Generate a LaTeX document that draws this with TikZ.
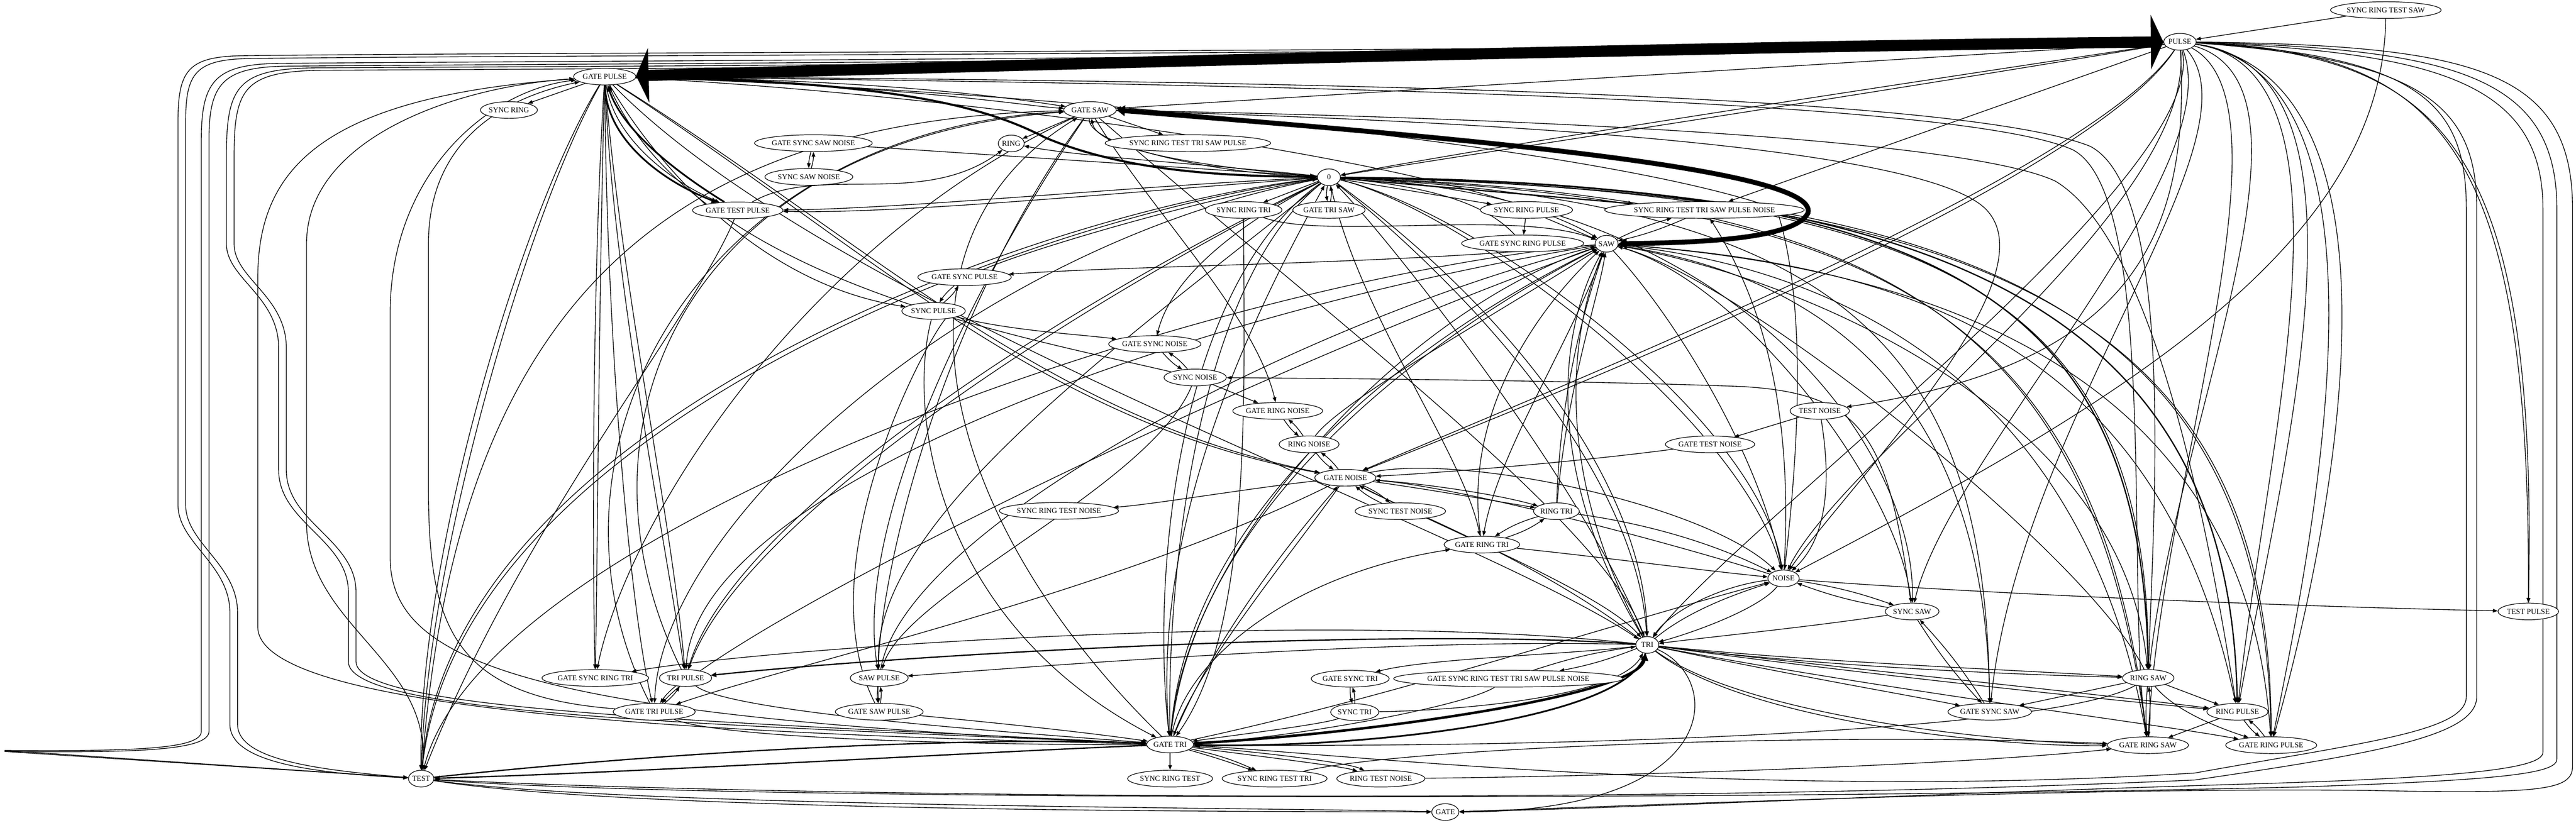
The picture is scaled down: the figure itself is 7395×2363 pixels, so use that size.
\documentclass[tikz,border=0pt]{standalone}
\usepackage{fontspec}
\setmainfont{Liberation Serif}
\usetikzlibrary{shapes.geometric,arrows.meta}
\pgfdeclarelayer{edges}
\pgfsetlayers{edges,main}

\begin{document}
\begin{tikzpicture}
  [x=0.25pt,y=-0.25pt,
   st/.style={ellipse,draw,fill=white,line width=0.45pt,minimum width=16.5pt,minimum height=12pt,
              inner xsep=0pt,inner ysep=1pt,font=\fontsize{5.4}{6}\selectfont},
   e/.style={draw,line width=0.5pt,-{Triangle[length=3.5pt,width=2.6pt]}},
   ew/.style={draw,line width=0.9pt,-{Triangle[length=4pt,width=3.4pt]}},
   mdE/.style={draw,line width=1.2pt,-{Triangle[length=4.5pt,width=4pt]}},
   thE/.style={draw,line width=1.5pt,-{Triangle[length=5pt,width=4.5pt]}},
   bandT/.style={draw,line width=1.8pt,-{Triangle[length=5pt,width=5.5pt]}},
   bandE/.style={draw,line width=3.5pt,{Triangle[length=6pt,width=7.5pt]}-{Triangle[length=6pt,width=7.5pt]}},
   hugeE/.style={draw,line width=8pt,{Triangle[length=9pt,width=39pt]}-{Triangle[length=9pt,width=39pt]}}]

  \useasboundingbox (0,0) rectangle (7395,2363);

  % states
  \node[st] (pulse)     at (6258,120)  {PULSE};
  \node[st] (srts)      at (6849,29)   {SYNC RING TEST SAW};
  \node[st] (gpulse)    at (1736,220)  {GATE PULSE};
  \node[st] (sring)     at (1461,316)  {SYNC RING};
  \node[st] (gsaw)      at (3129,316)  {GATE SAW};
  \node[st] (srttsp)    at (3410,411)  {SYNC RING TEST TRI SAW PULSE};
  \node[st] (gssn)      at (2335,411)  {GATE SYNC SAW NOISE};
  \node[st] (ssn)       at (2322,508)  {SYNC SAW NOISE};
  \node[st] (ring)      at (2903,412)  {RING};
  \node[st] (zero)      at (3815,509)  {0};
  \node[st] (gtp)       at (2118,604)  {GATE TEST PULSE};
  \node[st] (srtri)     at (3570,603)  {SYNC RING TRI};
  \node[st] (gtsaw)     at (3815,603)  {GATE TRI SAW};
  \node[st] (srp)       at (4382,603)  {SYNC RING PULSE};
  \node[st] (srttspn)   at (4893,603)  {SYNC RING TEST TRI SAW PULSE NOISE};
  \node[st] (gsrp)      at (4371,699)  {GATE SYNC RING PULSE};
  \node[st] (saw)       at (4612,700)  {SAW};
  \node[st] (gsp)       at (2769,796)  {GATE SYNC PULSE};
  \node[st] (sp)        at (2680,893)  {SYNC PULSE};
  \node[st] (gsn)       at (3315,988)  {GATE SYNC NOISE};
  \node[st] (sn)        at (3431,1084) {SYNC NOISE};
  \node[st] (grn)       at (3668,1180) {GATE RING NOISE};
  \node[st] (rn)        at (3758,1276) {RING NOISE};
  \node[st] (gn)        at (3862,1372) {GATE NOISE};
  \node[st] (tn)        at (5224,1180) {TEST NOISE};
  \node[st] (gtn)       at (4909,1276) {GATE TEST NOISE};
  \node[st] (srtn)      at (3040,1467) {SYNC RING TEST NOISE};
  \node[st] (stn)       at (4020,1468) {SYNC TEST NOISE};
  \node[st] (rtri)      at (4468,1468) {RING TRI};
  \node[st] (grtri)     at (4254,1564) {GATE RING TRI};
  \node[st] (noise)     at (5120,1661) {NOISE};
  \node[st] (ssaw)      at (5489,1756) {SYNC SAW};
  \node[st] (tpulse)    at (7258,1756) {TEST PULSE};
  \node[st] (tri)       at (4729,1852) {TRI};
  \node[st] (gsrtri)    at (1709,1947) {GATE SYNC RING TRI};
  \node[st] (tripulse)  at (1968,1947) {TRI PULSE};
  \node[st] (sawpulse)  at (2524,1947) {SAW PULSE};
  \node[st] (gstri)     at (3876,1949) {GATE SYNC TRI};
  \node[st] (gsrttspn)  at (4330,1949) {GATE SYNC RING TEST TRI SAW PULSE NOISE};
  \node[st] (rsaw)      at (6167,1947) {RING SAW};
  \node[st] (gtpulse)   at (1878,2044) {GATE TRI PULSE};
  \node[st] (gsawpulse) at (2524,2044) {GATE SAW PULSE};
  \node[st] (stri)      at (3889,2045) {SYNC TRI};
  \node[st] (gssaw)     at (5712,2044) {GATE SYNC SAW};
  \node[st] (rpulse)    at (6423,2044) {RING PULSE};
  \node[st] (gtri)      at (3359,2138) {GATE TRI};
  \node[st] (grsaw)     at (6166,2140) {GATE RING SAW};
  \node[st] (grpulse)   at (6520,2140) {GATE RING PULSE};
  \node[st] (test)      at (1209,2236) {TEST};
  \node[st] (srtest)    at (3359,2236) {SYNC RING TEST};
  \node[st] (srttri)    at (3659,2236) {SYNC RING TEST TRI};
  \node[st] (rtn)       at (3964,2236) {RING TEST NOISE};
  \node[st] (gate)      at (4149,2332) {GATE};

  \begin{pgfonlayer}{edges}
  % heavy transitions
  \draw[hugeE] (gpulse) .. controls (3200,180) and (4800,135) .. (pulse);
  \draw[bandE] (gsaw.east) .. controls (4100,390) and (5230,480) .. (5190,612) .. controls (5150,690) and (4850,697) .. (saw.east);
  \draw[thE] (gpulse.east) .. controls (2500,235) and (2800,290) .. (3000,395) .. controls (3250,500) and (3550,505) .. (zero);
  \draw[mdE] (gpulse) .. controls (1740,400) and (1900,520) .. (gtp);
  \draw[mdE] (gtp) .. controls (1950,500) and (1790,380) .. (gpulse);
  \draw[e] (gpulse) .. controls (1765,400) and (1925,520) .. (gtp);
  \draw[bandT] (gtri) .. controls (3900,2110) and (4700,2000) .. (tri);
  \draw[mdE] (tri) .. controls (4680,2060) and (3950,2150) .. (gtri);

  % top
  \draw[e] (srts) -- (pulse);
  \draw[e] (srts) .. controls (6840,700) and (6100,1150) .. (noise);
  \draw[e] (gpulse) -- (sring);
  \draw[e] (pulse) -- (gsaw);
  \draw[e] (pulse) .. controls (5400,250) and (4400,400) .. (zero);
  \draw[e] (pulse) .. controls (5400,265) and (4400,415) .. (zero);
  \draw[e] (gsaw) -- (ring);
  \draw[e] (gsaw) -- (srttsp);
  \draw[e] (gssn) to[bend right=8] (ssn);
  \draw[e] (ssn) to[bend right=8] (gssn);
  \draw[e] (gssn) -- (zero);
  \draw[e] (gtp) .. controls (2350,470) and (2650,600) .. (ring);
  \draw[e] (zero) .. controls (3450,470) and (3100,450) .. (ring);
  \draw[e] (zero) -- (srtri);
  \draw[e] (zero) to[bend right=10] (gtsaw);
  \draw[e] (gtsaw) to[bend right=10] (zero);
  \draw[e] (zero) -- (srp);
  \draw[ew] (zero) -- (srttspn);
  \draw[e] (srp) -- (gsrp);
  \draw[e] (srp) -- (saw);
  \draw[e] (srtri) .. controls (3800,690) and (4350,600) .. (saw);
  \draw[e] (srtri) .. controls (3570,1100) and (3600,1800) .. (gtri);
  \draw[e] (gsrp) .. controls (4280,600) and (4150,540) .. (zero);
  \draw[e] (saw) to[bend left=5] (srttspn);
  \draw[e] (srttspn) to[bend left=5] (saw);
  \draw[e] (pulse) -- (srttspn);
  \draw[e] (noise) .. controls (5150,1150) and (5050,850) .. (srttspn);
  \draw[e] (saw) .. controls (4000,760) and (3300,760) .. (gsp);
  \draw[e] (zero) .. controls (3300,530) and (2600,600) .. (gtp);
  \draw[e] (zero) .. controls (3300,545) and (2600,615) .. (gtp);
  \draw[e] (gsaw) .. controls (3120,420) and (3500,500) .. (zero);
  \draw[e] (zero) .. controls (3450,480) and (3150,430) .. (gsaw);
  \draw[e] (gsp) .. controls (3000,700) and (3500,560) .. (zero);

  % from GATE PULSE and GATE SAW to the right
  \draw[e] (gpulse) .. controls (2600,230) and (2950,290) .. (gsaw);
  \draw[e] (gpulse) .. controls (2600,245) and (2950,305) .. (gsaw);
  \draw[e] (gpulse) .. controls (3500,230) and (5600,260) .. (6000,420) .. controls (6250,550) and (6180,1500) .. (rsaw);
  \draw[e] (gpulse) .. controls (3500,240) and (5600,275) .. (5950,430) .. controls (6200,560) and (6100,1700) .. (grsaw);
  \draw[e] (gpulse) .. controls (3000,260) and (4600,420) .. (5100,600) .. controls (5200,900) and (5150,1400) .. (noise);
  \draw[e] (gpulse) .. controls (2600,260) and (4200,450) .. (saw);
  \draw[e] (gsaw) .. controls (4000,330) and (5600,380) .. (5900,520) .. controls (6200,700) and (6350,1600) .. (rpulse);
  \draw[e] (gsaw) .. controls (4000,340) and (5500,400) .. (5700,600) .. controls (5900,800) and (5300,1400) .. (noise);
  \draw[e] (gsaw) .. controls (3300,600) and (3600,900) .. (grn);

  % from PULSE down the right side
  \draw[e] (pulse) .. controls (7000,150) and (7265,400) .. (tpulse);
  \draw[e] (pulse) .. controls (7020,160) and (7285,420) .. (tpulse);
  \draw[e] (pulse) .. controls (6800,200) and (6500,1300) .. (rpulse);
  \draw[e] (pulse) .. controls (6850,200) and (6560,1300) .. (rpulse);
  \draw[e] (pulse) .. controls (6900,220) and (6650,1500) .. (grpulse);
  \draw[e] (pulse) .. controls (6950,230) and (6700,1500) .. (grpulse);
  \draw[e] (pulse) .. controls (6700,250) and (6250,1200) .. (rsaw);
  \draw[e] (pulse) .. controls (6600,300) and (6200,1400) .. (grsaw);
  \draw[e] (pulse) .. controls (6500,400) and (5800,1200) .. (gssaw);
  \draw[e] (pulse) .. controls (6400,500) and (5600,1300) .. (ssaw);
  \draw[e] (pulse) .. controls (6300,600) and (5300,1300) .. (noise);
  \draw[e] (pulse) .. controls (6350,500) and (5000,1500) .. (tri);
  \draw[e] (pulse) .. controls (6000,500) and (4500,1100) .. (gn);
  \draw[e] (pulse) .. controls (6000,520) and (4500,1120) .. (gn);
  \draw[e] (pulse) .. controls (6290,700) and (6100,1050) .. (tn);
  \draw[e] (pulse) .. controls (7100,130) and (7385,200) .. (7385,600) -- (7385,2200) .. controls (7385,2270) and (7300,2280) .. (6800,2270) .. controls (6000,2260) and (4800,2310) .. (gate);
  \draw[e] (pulse) .. controls (7050,140) and (7340,220) .. (7340,600) -- (7340,2180) .. controls (7340,2220) and (7200,2240) .. (6600,2260) .. controls (5000,2300) and (2000,2300) .. (test);
  \draw[e] (pulse) .. controls (7000,150) and (7300,240) .. (7300,600) -- (7300,2160) .. controls (7300,2200) and (7150,2230) .. (6500,2250) .. controls (5500,2280) and (4700,2320) .. (gate);
  \draw[e] (pulse) .. controls (6950,160) and (7080,300) .. (7080,600) -- (7080,2000) .. controls (7080,2100) and (6800,2130) .. (6300,2220) .. controls (5000,2300) and (3800,2160) .. (gtri);
  \draw[e] (pulse) .. controls (6950,170) and (7110,300) .. (7110,600) -- (7110,2000) .. controls (7110,2110) and (6850,2160) .. (6300,2240) .. controls (4500,2320) and (2000,2280) .. (test);

  % from PULSE and GATE PULSE round the left side
  \draw[e] (pulse) .. controls (4000,150) and (1500,150) .. (700,160) .. controls (540,162) and (511,200) .. (511,350) -- (511,1450) .. controls (511,1560) and (660,1620) .. (660,1760) -- (660,2080) .. controls (660,2190) and (900,2220) .. (test);
  \draw[e] (pulse) .. controls (4000,158) and (1500,158) .. (720,168) .. controls (560,170) and (533,210) .. (533,350) -- (533,1450) .. controls (533,1560) and (682,1620) .. (682,1760) -- (682,2080) .. controls (682,2180) and (900,2210) .. (test);
  \draw[e] (pulse) .. controls (4000,170) and (1600,175) .. (800,182) .. controls (620,185) and (578,230) .. (578,400) -- (578,2100) .. controls (578,2150) and (400,2158) .. (13,2155) -- (test);
  \draw[e] (pulse) .. controls (4000,178) and (1600,183) .. (820,190) .. controls (640,193) and (600,240) .. (600,400) -- (600,2100) .. controls (600,2155) and (400,2162) .. (13,2158) -- (test);
  \draw[e] (pulse) .. controls (4000,185) and (1700,190) .. (900,195) .. controls (680,198) and (650,250) .. (650,450) -- (650,700) .. controls (650,800) and (800,850) .. (800,1000) -- (800,1350) .. controls (800,1500) and (1000,1550) .. (1000,1700) -- (1000,1900) .. controls (1000,2050) and (2000,2080) .. (gtri);
  \draw[e] (pulse) .. controls (4000,192) and (1700,197) .. (920,202) .. controls (700,205) and (672,255) .. (672,450) -- (672,700) .. controls (672,800) and (822,850) .. (822,1000) -- (822,1350) .. controls (822,1500) and (1022,1550) .. (1022,1700) -- (1022,1900) .. controls (1022,2040) and (2000,2070) .. (gtri);
  \draw[e] (gtri) .. controls (1600,2100) and (740,2000) .. (740,1800) -- (740,800) .. controls (740,500) and (900,280) .. (gpulse);
  \draw[e] (test) .. controls (1250,1900) and (880,1800) .. (880,1500) -- (880,700) .. controls (880,400) and (1300,250) .. (gpulse);
  \draw[e] (gtri) .. controls (1500,2060) and (1120,1900) .. (1120,1600) -- (1120,900) .. controls (1120,500) and (1400,260) .. (gpulse);
  \draw[e] (gtpulse) .. controls (1300,2000) and (1230,1800) .. (1230,1400) -- (1230,700) .. controls (1230,400) and (1450,280) .. (gpulse);
  \draw[e] (gpulse) .. controls (1500,600) and (1200,1600) .. (test);
  \draw[e] (gpulse) .. controls (1520,600) and (1225,1600) .. (test);

  % SYNC PULSE / NOISE column
  \draw[e] (gsp) to[bend right=8] (sp);
  \draw[e] (sp) to[bend right=8] (gsp);
  \draw[e] (sp) .. controls (2900,950) and (3100,960) .. (gsn);
  \draw[e] (gpulse) .. controls (1900,500) and (2200,820) .. (sp);
  \draw[e] (gsn) to[bend right=8] (sn);
  \draw[e] (sn) to[bend right=8] (gsn);
  \draw[e] (sn) -- (grn);
  \draw[e] (grn) to[bend right=8] (rn);
  \draw[e] (rn) to[bend right=8] (grn);
  \draw[e] (rn) to[bend right=8] (gn);
  \draw[e] (gn) to[bend right=8] (rn);
  \draw[e] (gn) .. controls (3600,1400) and (3300,1450) .. (srtn);
  \draw[e] (gn) to[bend left=8] (stn);
  \draw[e] (stn) to[bend left=8] (gn);
  \draw[e] (gpulse) .. controls (2500,700) and (3000,1200) .. (gn);
  \draw[e] (gpulse) .. controls (2490,712) and (2990,1212) .. (gn);
  \draw[e] (sn) .. controls (2900,960) and (2000,800) .. (gpulse);
  \draw[e] (ssaw) .. controls (5420,1250) and (5350,1130) .. (5000,1110) .. controls (4600,1095) and (4000,1088) .. (sn);
  \draw[e] (rn) .. controls (3850,1150) and (4300,900) .. (saw);
  \draw[e] (zero) .. controls (3450,700) and (3350,850) .. (gsn);
  \draw[e] (tn) -- (gtn);
  \draw[e] (tn) .. controls (5260,1400) and (5240,1550) .. (noise);
  \draw[e] (gtn) .. controls (4500,1330) and (4100,1360) .. (gn);
  \draw[e] (sp) .. controls (2600,1200) and (2700,1800) .. (gtri);
  \draw[e] (gsawpulse) .. controls (2300,1600) and (2700,900) .. (sp);
  \draw[e] (sn) .. controls (3300,1400) and (2600,1700) .. (sawpulse);

  % RING TRI and NOISE
  \draw[e] (gn) .. controls (4100,1390) and (4300,1420) .. (rtri);
  \draw[e] (gn) .. controls (4100,1405) and (4300,1440) .. (rtri);
  \draw[e] (rtri) .. controls (4480,1100) and (4560,850) .. (saw);
  \draw[e] (rtri) .. controls (4500,1100) and (4590,850) .. (saw);
  \draw[e] (rtri) to[bend right=8] (grtri);
  \draw[e] (grtri) to[bend right=8] (rtri);
  \draw[e] (grtri) .. controls (4600,1600) and (4900,1640) .. (noise);
  \draw[e] (grtri) .. controls (4200,1200) and (4400,900) .. (saw);
  \draw[e] (rtri) .. controls (4700,1500) and (4900,1550) .. (noise);
  \draw[e] (gn) .. controls (4200,1300) and (4900,1450) .. (noise);
  \draw[e] (noise) .. controls (4800,1560) and (4200,1400) .. (gn);
  \draw[e] (gtri) .. controls (3400,1900) and (3700,1650) .. (grtri);
  \draw[e] (zero) .. controls (3900,900) and (4200,1300) .. (grtri);
  \draw[e] (saw) .. controls (4500,1000) and (4300,1300) .. (grtri);
  \draw[e] (zero) .. controls (4200,600) and (5000,1200) .. (noise);
  \draw[e] (zero) .. controls (4250,610) and (5050,1200) .. (noise);
  \draw[e] (saw) .. controls (4800,900) and (5050,1300) .. (noise);
  \draw[e] (noise) to[bend left=5] (ssaw);
  \draw[e] (ssaw) to[bend left=5] (noise);
  \draw[e] (noise) .. controls (5600,1700) and (6500,1740) .. (tpulse);
  \draw[e] (tri) .. controls (4850,1750) and (5000,1700) .. (noise);
  \draw[e] (noise) .. controls (4950,1680) and (4800,1750) .. (tri);
  \draw[e] (noise) .. controls (5050,1750) and (4850,1820) .. (tri);

  % SYNC SAW
  \draw[e] (ssaw) .. controls (5200,1800) and (4900,1830) .. (tri);
  \draw[e] (ssaw) to[bend right=5] (gssaw);
  \draw[e] (gssaw) to[bend right=5] (ssaw);
  \draw[e] (zero) .. controls (5000,560) and (5500,1300) .. (ssaw);
  \draw[e] (saw) .. controls (5000,800) and (5450,1400) .. (ssaw);

  % TRI
  \draw[e] (tri) .. controls (4500,1880) and (4100,1890) .. (gstri);
  \draw[e] (tri) to[bend left=5] (gsrttspn);
  \draw[e] (gsrttspn) to[bend left=5] (tri);
  \draw[e] (stri) .. controls (4200,2040) and (4650,2000) .. (tri);
  \draw[e] (gstri) to[bend right=8] (stri);
  \draw[e] (stri) to[bend right=8] (gstri);
  \draw[e] (stri) .. controls (3800,2080) and (3550,2110) .. (gtri);
  \draw[e] (gsrttspn) .. controls (4200,2030) and (3700,2120) .. (gtri);
  \draw[e] (tri) .. controls (4950,1950) and (4950,2330) .. (gate);
  \draw[e] (tri) .. controls (5200,1900) and (5700,1920) .. (rsaw);
  \draw[e] (tri) .. controls (5200,1910) and (5700,1935) .. (rsaw);
  \draw[e] (tri) .. controls (5300,1920) and (6000,1990) .. (rpulse);
  \draw[e] (tri) .. controls (5300,1930) and (6000,2005) .. (rpulse);
  \draw[e] (tri) .. controls (5200,1950) and (5500,2000) .. (gssaw);
  \draw[e] (tri) .. controls (5000,2050) and (5700,2130) .. (grsaw);
  \draw[e] (tri) .. controls (5000,2065) and (5700,2145) .. (grsaw);
  \draw[e] (tri) .. controls (5400,1980) and (6200,2080) .. (grpulse);
  \draw[ew] (tri) .. controls (4000,1800) and (2600,1880) .. (tripulse);
  \draw[e] (tri) .. controls (4000,1830) and (2900,1920) .. (sawpulse);
  \draw[e] (tri) .. controls (3800,1750) and (2200,1860) .. (gsrtri);
  \draw[e] (tri) .. controls (4400,1300) and (4500,900) .. (saw);
  \draw[e] (tri) .. controls (4430,1300) and (4530,900) .. (saw);
  \draw[e] (tri) .. controls (4550,1400) and (4000,700) .. (zero);
  \draw[e] (tri) .. controls (4400,1600) and (4000,1450) .. (gn);
  \draw[e] (gn) .. controls (4100,1500) and (4600,1700) .. (tri);
  \draw[e] (zero) .. controls (4300,900) and (4700,1400) .. (tri);
  \draw[e] (zero) .. controls (4350,900) and (4720,1400) .. (tri);
  \draw[e] (gsaw) .. controls (3800,900) and (4600,1500) .. (tri);
  \draw[e] (gpulse) .. controls (2400,900) and (4200,1500) .. (tri);

  % pulse waves at the lower left
  \draw[e] (tripulse) to[bend right=8] (gtpulse);
  \draw[e] (gtpulse) to[bend right=8] (tripulse);
  \draw[e] (sawpulse) to[bend right=8] (gsawpulse);
  \draw[e] (gsawpulse) to[bend right=8] (sawpulse);
  \draw[e] (gsawpulse) .. controls (2800,2070) and (3100,2100) .. (gtri);
  \draw[e] (gpulse) .. controls (1700,800) and (1700,1600) .. (gsrtri);
  \draw[e] (gpulse) .. controls (1720,800) and (1715,1600) .. (gsrtri);
  \draw[e] (gpulse) .. controls (1760,800) and (1900,1500) .. (tripulse);
  \draw[e] (gpulse) .. controls (1780,800) and (1930,1500) .. (tripulse);
  \draw[e] (gpulse) .. controls (1740,900) and (1800,1700) .. (gtpulse);
  \draw[e] (zero) .. controls (3000,900) and (2100,1500) .. (tripulse);
  \draw[e] (zero) .. controls (3020,910) and (2120,1510) .. (tripulse);
  \draw[e] (zero) .. controls (2800,700) and (1900,1500) .. (gtpulse);
  \draw[e] (saw) .. controls (3500,1100) and (2100,1800) .. (gtpulse);
  \draw[e] (saw) .. controls (3400,900) and (2000,1400) .. (tripulse);
  \draw[e] (zero) .. controls (3200,1000) and (2500,1500) .. (sawpulse);
  \draw[e] (gsaw) .. controls (2800,800) and (2450,1500) .. (sawpulse);
  \draw[e] (gsaw) .. controls (2700,900) and (2500,1700) .. (gsawpulse);
  \draw[e] (gsaw) .. controls (2300,700) and (1800,1500) .. (gsrtri);
  \draw[e] (sawpulse) .. controls (2600,1500) and (3800,900) .. (saw);
  \draw[e] (gtpulse) .. controls (2100,2130) and (3000,2140) .. (gtri);
  \draw[e] (tripulse) .. controls (2100,2050) and (3000,2110) .. (gtri);
  \draw[e] (gn) .. controls (3200,1700) and (2300,1900) .. (gtpulse);

  % GATE TRI
  \draw[ew] (gtri) .. controls (2800,2160) and (1800,2220) .. (test);
  \draw[ew] (test) .. controls (2200,2130) and (3000,2120) .. (gtri);
  \draw[e] (gtri) -- (srtest);
  \draw[e] (gtri) to[bend left=6] (srttri);
  \draw[e] (gtri) to[bend left=2] (srttri);
  \draw[e] (gtri) .. controls (3600,2170) and (3850,2200) .. (rtn);
  \draw[e] (gtri) .. controls (3620,2160) and (3870,2190) .. (rtn);
  \draw[e] (rtn) .. controls (4600,2230) and (5600,2200) .. (grsaw);
  \draw[e] (srttri) .. controls (4000,2150) and (5200,2100) .. (grsaw);
  \draw[e] (gtri) .. controls (3300,1500) and (3600,900) .. (zero);
  \draw[e] (zero) .. controls (3400,800) and (3300,1600) .. (gtri);
  \draw[e] (zero) .. controls (3450,800) and (3350,1600) .. (gtri);
  \draw[e] (saw) .. controls (4000,900) and (3400,1600) .. (gtri);
  \draw[e] (gtri) .. controls (3400,1500) and (4000,1000) .. (saw);
  \draw[e] (gtri) .. controls (3420,1500) and (4030,1000) .. (saw);
  \draw[e] (gtri) .. controls (2700,1500) and (2500,700) .. (gsaw);
  \draw[e] (gn) .. controls (3700,1600) and (3450,1900) .. (gtri);
  \draw[e] (gtri) .. controls (3500,1800) and (3750,1500) .. (gn);
  \draw[e] (gtri) .. controls (4000,2000) and (4600,1800) .. (noise);

  % TEST
  \draw[e] (test) .. controls (1800,2330) and (3500,2330) .. (gate);
  \draw[e] (test) .. controls (1800,2318) and (3600,2318) .. (gate);
  \draw[e] (test) .. controls (1300,1000) and (1800,350) .. (gsaw);
  \draw[e] (tripulse) .. controls (1600,1200) and (2000,400) .. (gsaw);
  \draw[e] (gtpulse) .. controls (1500,1300) and (2000,380) .. (gsaw);
  \draw[e] (gtp) .. controls (2000,900) and (1500,1500) .. (test);
  \draw[e] (zero) .. controls (3000,600) and (1300,1200) .. (test);
  \draw[e] (zero) .. controls (3000,615) and (1320,1215) .. (test);
  \draw[e] (saw) .. controls (3500,800) and (1400,1500) .. (test);

  % ring waves at the lower right
  \draw[e] (rsaw) to[bend right=5] (grsaw);
  \draw[e] (grsaw) to[bend right=5] (rsaw);
  \draw[e] (rsaw) -- (gssaw);
  \draw[e] (rsaw) -- (rpulse);
  \draw[e] (rsaw) .. controls (6250,2050) and (6400,2100) .. (grpulse);
  \draw[e] (rpulse) to[bend right=8] (grpulse);
  \draw[e] (grpulse) to[bend right=8] (rpulse);
  \draw[e] (rpulse) -- (grsaw);
  \draw[ew] (zero) .. controls (5500,530) and (6150,800) .. (rsaw);
  \draw[e] (zero) .. controls (5500,545) and (6170,800) .. (rsaw);
  \draw[ew] (zero) .. controls (5600,520) and (6400,900) .. (rpulse);
  \draw[e] (zero) .. controls (5400,560) and (6000,900) .. (grsaw);
  \draw[e] (zero) .. controls (5400,575) and (6020,900) .. (grsaw);
  \draw[e] (zero) .. controls (5700,530) and (6500,900) .. (grpulse);
  \draw[e] (zero) .. controls (5700,545) and (6520,900) .. (grpulse);
  \draw[e] (zero) .. controls (5300,580) and (5700,1000) .. (gssaw);
  \draw[e] (saw) .. controls (5500,760) and (6200,1000) .. (rpulse);
  \draw[e] (saw) .. controls (5400,780) and (6000,1200) .. (grsaw);
  \draw[e] (saw) .. controls (5600,770) and (6450,1100) .. (grpulse);
  \draw[e] (saw) .. controls (5300,800) and (5700,1200) .. (gssaw);
  \draw[e] (saw) .. controls (5200,800) and (6100,1200) .. (rsaw);
  \draw[e] (rsaw) .. controls (6000,1600) and (5000,800) .. (saw);
  \draw[e] (rsaw) .. controls (5900,2100) and (4500,2150) .. (gtri);
  \end{pgfonlayer}
\end{tikzpicture}
\end{document}
